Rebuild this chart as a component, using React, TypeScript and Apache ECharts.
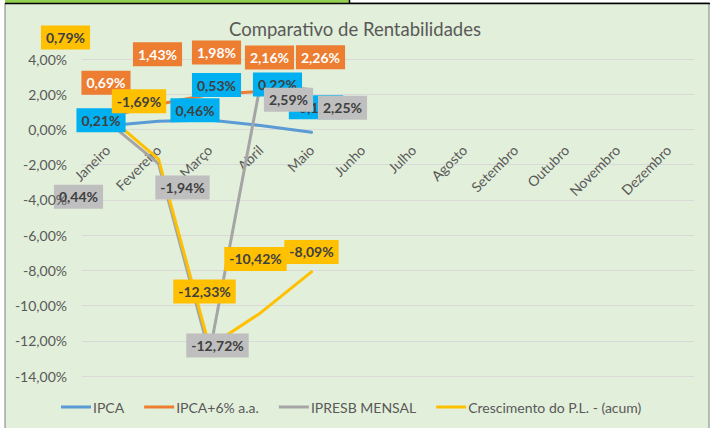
import React, { useEffect, useRef } from "react";
import * as echarts from "echarts";

const months = ["Janeiro", "Fevereiro", "Março", "Abril", "Maio", "Junho", "Julho", "Agosto", "Setembro", "Outubro", "Novembro", "Dezembro"];
const yTicks = [4, 2, 0, -2, -4, -6, -8, -10, -12, -14];
const ipca = [0.21, 0.46, 0.53, 0.22, -0.16];
const ipca6 = [0.69, 1.43, 1.98, 2.16, 2.26];
const ipresb = [0.44, -1.94, -12.72, 2.59, 2.25];
const plGrowth = [0.79, -1.69, -12.33, -10.42, -8.09];

const seriesNames = ["IPCA", "IPCA+6% a.a.", "IPRESB MENSAL", "Crescimento do P.L. - (acum)"];

// label placement (styling, manually positioned in the original)
const ipcaOffsets = [[-6.5, -5.6], [36.5, -11], [7, -35], [17, -41], [4.5, -25]];
const ipca6Offsets = [[-1.5, -34.6], [-1, -50], [7, -42], [9, -34], [9, -32.5]];
const ipresbOffsets = [[-29, 75], [24, 24], [8, -8], [28, 16], [31, 18]];
const plOffsets = [[-42, -78], [-19.5, -58], [-5, -55], [-5, -54], [0, -20]];

const FONT = "Lato";
const fmt = (v: number) => v.toFixed(2).replace(".", ",") + "%";

const W = 710;
const H = 428;
const GRID = { left: 82, right: 16, top: 59, bottom: 52 };
const yMax = yTicks[0];
const yMin = yTicks[yTicks.length - 1];
const plotH = H - GRID.top - GRID.bottom;
// move the category axis (and its labels) up to the value 0, as in the original
const zeroShift = -(plotH * (0 - yMin)) / (yMax - yMin);

function makeSeries(name: string, values: number[], offsets: number[][], color: string, labelBg: string, labelColor: string) {
  return {
    type: "line",
    name,
    yAxisIndex: 0,
    data: values.map((v, i) => ({ value: v, label: { offset: offsets[i] } })),
    symbol: "circle",
    symbolSize: 2,
    showSymbol: true,
    lineStyle: { width: 3, color, cap: "round", join: "round" },
    itemStyle: { color },
    emphasis: { disabled: true },
    label: {
      show: true,
      position: "inside",
      formatter: (p: any) => fmt(p.value),
      backgroundColor: labelBg,
      color: labelColor,
      fontWeight: "bold",
      fontSize: 14,
      lineHeight: 14,
      fontFamily: FONT,
      padding: [5, 5],
    },
  };
}

export default function App() {
  const ref = useRef<HTMLDivElement>(null);
  useEffect(() => {
    if (!ref.current) return;
    const chart = echarts.init(ref.current, undefined, { renderer: "svg" });
    const axisText = { fontFamily: FONT, fontSize: 14, color: "#595959" };
    chart.setOption({
      animation: false,
      backgroundColor: "#ffffff",
      graphic: [
        { type: "rect", z: -100, shape: { x: 5, y: 3, width: 704, height: 426 }, style: { fill: "#E2EFDA", stroke: "#7F7F7F", lineWidth: 1 } },
        { type: "rect", z: -99, shape: { x: 5, y: 0, width: 344, height: 3 }, style: { fill: "#92D050" } },
        { type: "line", z: -98, shape: { x1: 5, y1: 3.5, x2: 710, y2: 3.5 }, style: { stroke: "#000000", lineWidth: 1.5 } },
        { type: "line", z: -98, shape: { x1: 349.5, y1: 0, x2: 349.5, y2: 3 }, style: { stroke: "#000000", lineWidth: 1.5 } },
      ],
      title: {
        text: "Comparativo de Rentabilidades",
        left: "center",
        top: 14,
        textStyle: { fontFamily: FONT, fontSize: 18.5, fontWeight: "normal", color: "#595959" },
      },
      legend: {
        data: seriesNames,
        top: 400,
        left: 61,
        padding: 0,
        icon: "rect",
        itemWidth: 30,
        itemHeight: 3,
        itemGap: 20,
        textStyle: { ...axisText, padding: [0, 0, 0, -3] },
      },
      grid: { ...GRID, containLabel: false, outerBoundsMode: "none" },
      xAxis: {
        type: "category",
        data: months,
        boundaryGap: true,
        offset: zeroShift,
        axisLine: { show: false, onZero: false },
        axisTick: { show: false },
        axisLabel: { rotate: 45, interval: 0, margin: 18, ...axisText },
        splitLine: { show: false },
      },
      yAxis: [
        {
          type: "value",
          min: yMin,
          max: yMax,
          interval: 2,
          axisLine: { show: false },
          axisTick: { show: false },
          axisLabel: { show: false },
          splitLine: { lineStyle: { color: "#D9D9D9", width: 1 } },
        },
        {
          type: "value",
          position: "left",
          z: 20,
          min: yMin,
          max: yMax,
          interval: 2,
          axisLine: { show: false },
          axisTick: { show: false },
          axisLabel: { formatter: (v: number) => fmt(v), margin: 15, ...axisText },
          splitLine: { show: false },
        },
      ],
      series: [
        makeSeries(seriesNames[0], ipca, ipcaOffsets, "#5B9BD5", "#00B0F0", "#404040"),
        makeSeries(seriesNames[1], ipca6, ipca6Offsets, "#ED7D31", "#ED7D31", "#FFFFFF"),
        makeSeries(seriesNames[2], ipresb, ipresbOffsets, "#A5A5A5", "#BFBFBF", "#404040"),
        makeSeries(seriesNames[3], plGrowth, plOffsets, "#FFC000", "#FFC000", "#404040"),
      ],
    });
    return () => chart.dispose();
  }, []);
  return <div ref={ref} style={{ position: "fixed", left: 0, top: 0, width: W, height: H }} />;
}
